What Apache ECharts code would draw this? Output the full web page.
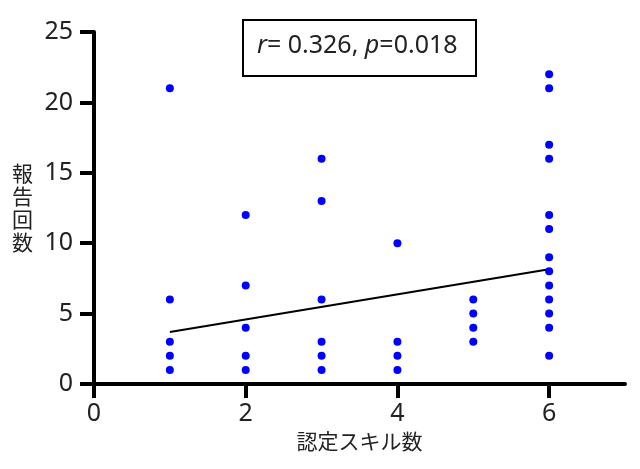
<!DOCTYPE html>
<html>
<head>
    <meta charset="utf-8">
    <script type="text/javascript" src="https://cdn.jsdelivr.net/npm/echarts@6/dist/echarts.min.js"></script>
</head>
<body style="margin:0">
    <div id="main" style="width: 640px;height:469px;"></div>
    <script type="text/javascript">
    // 認定スキル数ごとの報告回数
    let skillX = [1, 1, 1, 1, 1,
                  2, 2, 2, 2, 2,
                  3, 3, 3, 3, 3, 3,
                  4, 4, 4, 4,
                  5, 5, 5, 5,
                  6, 6, 6, 6, 6, 6, 6, 6, 6, 6, 6, 6, 6]
    let reportY = [1, 2, 3, 6, 21,
                   1, 2, 4, 7, 12,
                   1, 2, 3, 6, 13, 16,
                   1, 2, 3, 10,
                   3, 4, 5, 6,
                   2, 4, 5, 6, 7, 8, 9, 11, 12, 16, 17, 21, 22]
    let fitX = [1, 6]
    let fitY = [3.7, 8.15]
    let xTicks = [0, 2, 4, 6]
    let statText = '{i|r}= 0.326, {i|p}=0.018'

    let font = '"Noto Sans", "Noto Sans CJK JP", sans-serif'
    let cjk = '"Noto Sans CJK JP", sans-serif'
    var myChart = echarts.init(document.getElementById('main'));
    let points = skillX.map((v, i) => [v, reportY[i]])
    let fit = fitX.map((v, i) => [v, fitY[i]])

    option = {
        animation: false,
        grid: { left: 94, right: 15, top: 32, bottom: 85 },
        xAxis: {
            type: 'value',
            min: 0, max: 7,
            name: '認定スキル数',
            nameLocation: 'middle',
            nameGap: 42,
            nameTextStyle: { fontFamily: cjk, fontSize: 21, color: '#222' },
            axisLine: { lineStyle: { color: '#000', width: 4 } },
            axisTick: { length: 14, customValues: xTicks, lineStyle: { color: '#000', width: 4 } },
            axisLabel: { fontFamily: font, fontSize: 25, color: '#222', margin: 17,
                         customValues: xTicks },
            splitLine: { show: false }
        },
        yAxis: {
            type: 'value',
            min: 0, max: 25, interval: 5,
            name: '報\n告\n回\n数',
            nameLocation: 'middle',
            nameRotate: 0,
            nameGap: 61,
            nameTextStyle: { fontFamily: cjk, fontSize: 21, color: '#222', lineHeight: 23 },
            axisLine: { lineStyle: { color: '#000', width: 4 } },
            axisTick: { length: 14, lineStyle: { color: '#000', width: 4 } },
            axisLabel: { fontFamily: font, fontSize: 25, color: '#222', margin: 21 },
            splitLine: { show: false }
        },
        graphic: [{
            type: 'rect',
            left: 242, top: 19,
            shape: { width: 233, height: 56 },
            style: { fill: '#fff', stroke: '#000', lineWidth: 2 }
        }, {
            type: 'text',
            x: 257, y: 46,
            style: {
                text: statText,
                verticalAlign: 'middle',
                fontFamily: font, fontSize: 25, fill: '#222',
                rich: { i: { fontStyle: 'italic', fontFamily: font, fontSize: 25 } }
            }
        }],
        series: [{
            name: 'fit',
            type: 'line',
            data: fit,
            showSymbol: false,
            lineStyle: { color: '#000', width: 2 },
            z: 1
        }, {
            name: 'points',
            type: 'scatter',
            data: points,
            symbolSize: 8,
            itemStyle: { color: '#0000ff', opacity: 1 },
            z: 2
        }]
    };
    myChart.setOption(option);
    </script>
</body>
</html>
